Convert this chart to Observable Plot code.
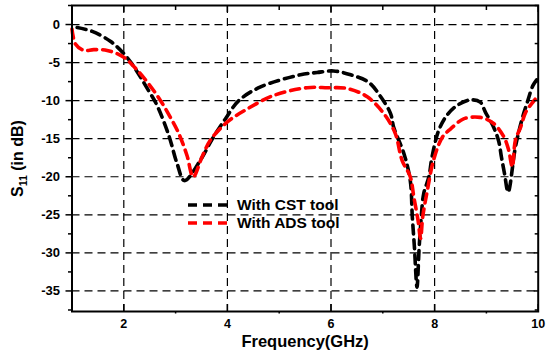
<!DOCTYPE html>
<html>
<head>
<meta charset="utf-8">
<script src="https://cdn.jsdelivr.net/npm/d3@7"></script>
<script src="https://cdn.jsdelivr.net/npm/@observablehq/plot@0.6"></script>
<style>
  html, body { margin: 0; padding: 0; background: #fff; }
  #chart { width: 550px; height: 354px; }
</style>
</head>
<body>
<div id="chart"></div>
<script>
// --- data ---
const seriesNames = ["With CST tool", "With ADS tool"];
const seriesColors = ["#000000", "#ff0000"];

const cstFreq = [1.1, 1.39, 1.74, 1.97, 2.16, 2.48, 2.64, 2.87, 3.03, 3.17, 3.48, 3.71, 3.96, 4.22, 4.64, 5.41, 5.73, 6.05, 6.38, 6.73, 6.96, 7.15, 7.21, 7.41, 7.53, 7.57, 7.61, 7.66, 7.70, 7.74, 7.79, 7.89, 7.95, 8.08, 8.24, 8.44, 8.69, 8.88, 8.98, 9.14, 9.24, 9.29, 9.35, 9.42, 9.56, 9.69, 9.79, 9.90, 10];
const cstS11  = [-0.4, -0.9, -2.2, -3.6, -5.2, -8.7, -10.6, -14.6, -18.3, -20.5, -17.8, -15.0, -12.4, -10.0, -8.2, -6.6, -6.3, -6.1, -6.6, -7.6, -9.5, -11.7, -13.5, -17.0, -20.5, -25.3, -29.2, -34.5, -29.5, -25.5, -22.2, -20.0, -17.4, -13.9, -11.9, -10.6, -9.9, -10.2, -11.5, -13.5, -15.4, -17.4, -19.6, -22.0, -16.1, -12.4, -10.2, -8.0, -7.0];

const adsFreq = [1.0, 1.07, 1.23, 1.42, 1.68, 2.0, 2.26, 2.48, 2.71, 2.90, 3.06, 3.22, 3.34, 3.51, 3.67, 4.0, 4.38, 4.9, 5.54, 5.93, 6.31, 6.70, 7.02, 7.24, 7.37, 7.53, 7.60, 7.68, 7.73, 7.77, 7.86, 7.98, 8.15, 8.31, 8.56, 8.88, 9.14, 9.34, 9.43, 9.50, 9.56, 9.66, 9.76, 9.92, 10];
const adsS11  = [-0.6, -2.6, -3.4, -3.3, -3.4, -4.3, -6.0, -7.8, -10.0, -12.2, -14.3, -17.2, -20.0, -17.4, -15.2, -12.8, -11.1, -9.3, -8.3, -8.3, -8.4, -9.5, -11.7, -14.3, -17.8, -20.0, -22.7, -25.7, -28.1, -25.3, -21.8, -17.8, -14.8, -13.7, -12.4, -12.2, -13.0, -14.8, -16.5, -18.7, -15.2, -13.5, -11.5, -10.0, -9.3];

const xMajor = [2, 4, 6, 8, 10];
const xMinor = [3, 5, 7, 9];
const xGrid = [2, 4, 6, 8];
const yMajor = [0, -5, -10, -15, -20, -25, -30, -35];
const yMinor = [2.5, -2.5, -7.5, -12.5, -17.5, -22.5, -27.5, -32.5, -37.5];
const xDomain = [1, 10];
const yDomain = [-37.7, 2.5];
const xLabel = "Frequency(GHz)";
const yLabel = "S11 (in dB)";

// build tables
const cst = cstFreq.map((f, i) => ({f, s: cstS11[i], series: seriesNames[0]}));
const ads = adsFreq.map((f, i) => ({f, s: adsS11[i], series: seriesNames[1]}));

const font = "'Liberation Sans', Arial, Helvetica, sans-serif";

const chart = Plot.plot({
  width: 550,
  height: 354,
  marginLeft: 71.5,
  marginRight: 12.3,
  marginTop: 5,
  marginBottom: 43,
  style: {fontFamily: font, fontWeight: "bold", color: "#000", background: "#fff"},
  x: {domain: xDomain},
  y: {domain: yDomain},
  marks: [
    Plot.gridX(xGrid, {stroke: "#000", strokeOpacity: 1, strokeWidth: 1.2, strokeDasharray: "8,5"}),
    Plot.gridY(yMajor, {stroke: "#000", strokeOpacity: 1, strokeWidth: 1.2, strokeDasharray: "8,5"}),
    Plot.line(cst, {x: "f", y: "s", stroke: seriesColors[0], strokeWidth: 3.6, strokeDasharray: "9,6", curve: "catmull-rom"}),
    Plot.line(ads, {x: "f", y: "s", stroke: seriesColors[1], strokeWidth: 3.6, strokeDasharray: "9,6", curve: "catmull-rom"}),
    // left axis: outward ticks with labels
    Plot.axisY({anchor: "left", ticks: yMajor, tickSize: 6, tickPadding: 6, tickFormat: d => String(d).replace("\u2212", "-"), fontSize: 13, fontWeight: "bold", strokeWidth: 1.5,
      label: yLabel, labelArrow: "none", labelAnchor: "center", labelOffset: 60}),
    Plot.axisY({anchor: "left", ticks: yMinor, tickSize: 3.5, text: null, label: null, strokeWidth: 1.5}),
    // right axis: inward ticks
    Plot.axisY({anchor: "right", ticks: yMajor, tickSize: 5, dx: -5, text: null, label: null, strokeWidth: 1.5}),
    Plot.axisY({anchor: "right", ticks: yMinor, tickSize: 4, dx: -4, text: null, label: null, strokeWidth: 1.5}),
    // bottom axis: inward major ticks, labels
    Plot.axisX({anchor: "bottom", ticks: xMajor, tickSize: 7, dy: -7, text: null, label: null, strokeWidth: 1.5}),
    Plot.axisX({anchor: "bottom", ticks: xMinor, tickSize: 2.5, text: null, label: null, strokeWidth: 1.5}),
    Plot.axisX({anchor: "bottom", ticks: xMajor, tickSize: 0, tickPadding: 8, fontSize: 12.5, fontWeight: "bold",
      label: xLabel, labelArrow: "none", labelAnchor: "center", labelOffset: 35}),
    // top axis: inward ticks
    Plot.axisX({anchor: "top", ticks: xMajor, tickSize: 6, dy: 6, text: null, label: null, strokeWidth: 1.5}),
    Plot.axisX({anchor: "top", ticks: xMinor, tickSize: 4, dy: 4, text: null, label: null, strokeWidth: 1.5}),
    Plot.frame({stroke: "#000", strokeWidth: 2})
  ]
});

document.getElementById("chart").appendChild(chart);

const svg = d3.select(chart);
svg.selectAll("text").attr("font-weight", "bold").attr("fill", "#000");
// axis label styling + subscript
svg.selectAll("text").each(function() {
  const t = this.textContent.replace(/[\u2190-\u2193]/g, "").trim();
  if (t === yLabel) {
    const el = d3.select(this);
    el.text(null).attr("font-size", 16);
    el.append("tspan").text("S");
    el.append("tspan").attr("font-size", 10.5).attr("dy", 4).text("11");
    el.append("tspan").attr("dy", -4).text(" (in dB)");
  } else if (t === xLabel) {
    d3.select(this).text(xLabel).attr("font-size", 16.5);
  }
});

// legend (inside plot area)
const lg = svg.append("g").attr("font-family", font).attr("font-weight", "bold").attr("font-size", 15.5).attr("text-anchor", "start");
seriesNames.forEach((name, i) => {
  const y = 205 + i * 18;
  lg.append("line").attr("x1", 188).attr("x2", 233).attr("y1", y).attr("y2", y)
    .attr("stroke", seriesColors[i]).attr("stroke-width", 3.6).attr("stroke-dasharray", "9,6");
  lg.append("text").attr("x", 237).attr("y", y).attr("dy", "0.35em").attr("fill", "#000").text(name);
});
</script>
</body>
</html>
